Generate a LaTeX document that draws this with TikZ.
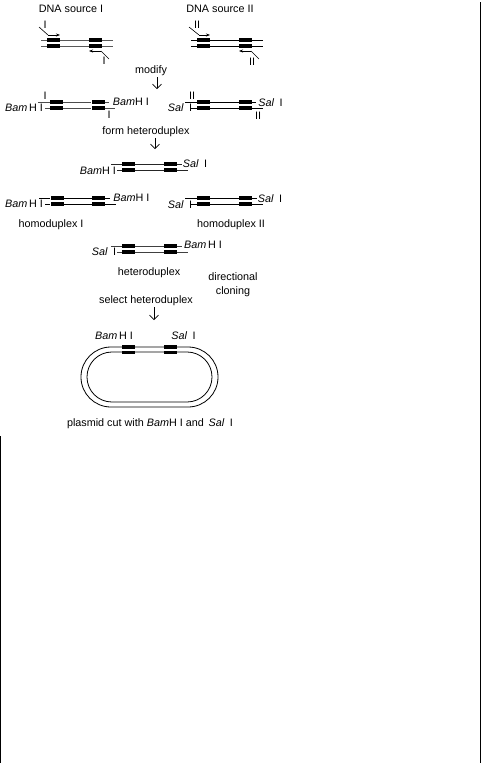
\documentclass[tikz,border=0pt]{standalone}
\usepackage{fontspec}
\setmainfont{Liberation Sans}
\usetikzlibrary{arrows.meta}

\begin{document}
\begin{tikzpicture}[x=1pt, y=-1pt, font=\fontsize{10.8}{13}\selectfont, >=stealth,
  lab/.style={inner sep=0pt, align=center},
  bar/.style={fill=black, inner sep=0pt, minimum width=13pt, minimum height=3.6pt},
  strand/.style={line width=0.8pt},
  primer/.style={line width=0.6pt},
  primerhead/.style={-{Stealth[length=4pt, width=3pt]}, line width=1pt},
  down/.style={-{Straight Barb[length=4.5pt, width=9pt]}, line width=0.7pt},
  ring/.style={draw, line width=0.8pt, inner sep=0pt}]
  \useasboundingbox (0,0) rectangle (481,763);
  % page edges
  \coordinate (edgeLa) at (0.6,436);
  \coordinate (edgeLb) at (0.6,763);
  \coordinate (edgeRa) at (480,2);
  \coordinate (edgeRb) at (480,763);
  \draw[line width=1pt] (edgeLa) -- (edgeLb);
  \draw[line width=1pt] (edgeRa) -- (edgeRb);
  % duplexes: name / x of bars / y of strands / ends of strands / colour
  \foreach \n/\xa/\xb/\yt/\tl/\tr/\bl/\br/\col in {
    srcA/53.5/95.5/40/41/113/41/113/black!65,
    srcB/203.5/245.5/40/191/263/191/263/black,
    modA/56.5/98/102/38/109/45/115/black!70,
    modB/203.5/245.5/102/185/256/190/263/black,
    het/128.5/170.5/164/111/182/117/188/black!85,
    homA/57/98.5/198/39/110/45/116/black,
    homB/203.5/245.5/198/185/257/190/263/black,
    hetB/128.5/170.5/246/111/182/117/188/black!75}{
    \node[bar] (\n ta) at (\xa,\yt) {};
    \node[bar] (\n tb) at (\xb,\yt) {};
    \node[bar] (\n ba) at (\xa,\yt+6) {};
    \node[bar] (\n bb) at (\xb,\yt+6) {};
    \coordinate (\n tl) at (\tl,\yt);
    \coordinate (\n tr) at (\tr,\yt);
    \coordinate (\n bl) at (\bl,\yt+6);
    \coordinate (\n br) at (\br,\yt+6);
    \draw[strand, \col] (\n tl) -- (\n ta) -- (\n tb) -- (\n tr);
    \draw[strand, \col] (\n bl) -- (\n ba) -- (\n bb) -- (\n br);
  }
  % source I
  \node[lab] (titleA) at (71,9) {DNA source I};
  \node[lab] (priA) at (45,25) {I};
  \node[lab] (priB) at (104,61) {I};
  \coordinate (priAs) at (39,27);
  \coordinate (priAk) at (48,35);
  \coordinate (priAe) at (60,35);
  \coordinate (priBs) at (109,59);
  \coordinate (priBk) at (101,51);
  \coordinate (priBe) at (89,51);
  \draw[primer] (priAs) -- (priAk);
  \draw[primerhead] (priAk) -- (priAe);
  \draw[primer] (priBs) -- (priBk);
  \draw[primerhead] (priBk) -- (priBe);
  % source II
  \node[lab] (titleB) at (220,9) {DNA source II};
  \node[lab] (priC) at (197,25) {II};
  \node[lab] (priD) at (252,62) {II};
  \coordinate (priCs) at (189,27);
  \coordinate (priCk) at (199,35);
  \coordinate (priCe) at (210,35);
  \coordinate (priDs) at (259,59);
  \coordinate (priDk) at (251,51);
  \coordinate (priDe) at (239,51);
  \draw[primer] (priCs) -- (priCk);
  \draw[primerhead] (priCk) -- (priCe);
  \draw[primer] (priDs) -- (priDk);
  \draw[primerhead] (priDk) -- (priDe);
  % modify
  \node[lab] (modify) at (151,71) {modify};
  \coordinate (modifyA) at (157,77);
  \coordinate (modifyB) at (157,89);
  \draw[down] (modifyA) -- (modifyB);
  \node[lab] (modAi) at (45,96) {I};
  \node[lab] (modAl) at (24,108) {\textit{Bam}\,H I};
  \node[lab] (modAr) at (131,102) {\textit{Bam}H I};
  \node[lab] (modAj) at (109,114.5) {I};
  \node[lab] (modBi) at (192,96) {II};
  \node[lab] (modBl) at (180,108) {\textit{Sal}\enspace I};
  \node[lab] (modBr) at (270.5,103) {\textit{Sal}\enspace I};
  \node[lab] (modBj) at (258,116) {II};
  % heteroduplex
  \node[lab] (form) at (146,132) {form heteroduplex};
  \coordinate (formA) at (155,138);
  \coordinate (formB) at (155,149);
  \draw[down] (formA) -- (formB);
  \node[lab] (hetl) at (98,171) {\textit{Bam}H I};
  \node[lab] (hetr) at (195,164) {\textit{Sal}\enspace I};
  % homoduplexes
  \node[lab] (homAl) at (24,204) {\textit{Bam}\,H I};
  \node[lab] (homAr) at (131.5,198) {\textit{Bam}H I};
  \node[lab] (homBl) at (180,205) {\textit{Sal}\enspace I};
  \node[lab] (homBr) at (270,199) {\textit{Sal}\enspace I};
  \node[lab] (homAt) at (51,225) {homoduplex I};
  \node[lab] (homBt) at (231,225) {homoduplex II};
  \node[lab] (hetBl) at (104,252) {\textit{Sal}\enspace I};
  \node[lab] (hetBr) at (203,245) {\textit{Bam}\,H I};
  \node[lab] (hetBt) at (149,273) {heteroduplex};
  \node[lab] (dir) at (233,284.5) {directional\\[1.5pt] cloning};
  % plasmid
  \node[lab] (select) at (146,301) {select heteroduplex};
  \coordinate (selectA) at (154,307);
  \coordinate (selectB) at (154,320);
  \draw[down] (selectA) -- (selectB);
  \node[ring, minimum width=137pt, minimum height=60pt, rounded corners=29.9pt] (outer) at (149.5,377) {};
  \node[ring, minimum width=125pt, minimum height=50pt, rounded corners=24.9pt] (inner) at (149.5,377) {};
  \node[bar] (plaA) at (128.5,347) {};
  \node[bar] (plaB) at (170.5,347) {};
  \node[bar] (plaC) at (128.5,352.5) {};
  \node[bar] (plaD) at (170.5,352.5) {};
  \node[lab] (plaL) at (114,336) {\textit{Bam}\,H I};
  \node[lab] (plaR) at (183.5,336) {\textit{Sal}\enspace I};
  \node[lab] (plaT) at (150,424) {plasmid cut with \textit{Bam}H I and \,\textit{Sal}\enspace I};
\end{tikzpicture}
\end{document}
